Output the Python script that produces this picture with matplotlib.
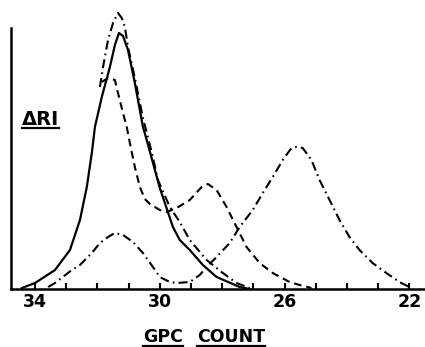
import matplotlib
matplotlib.use('Agg')
import matplotlib.pyplot as plt
from matplotlib.lines import Line2D

plt.rcParams['font.family'] = ['DejaVu Sans']
plt.rcParams['lines.scale_dashes'] = False

# GPC count vs detector response (heights)
solid_x = [34.42, 34.00, 33.36, 32.88, 32.56, 32.34, 32.18, 32.08, 31.86, 31.60, 31.44,
           31.31, 31.18, 31.02, 30.80, 30.70, 30.54, 30.42, 30.00, 29.58, 29.36,
           29.04, 28.62, 28.18, 27.44, 27.12]
solid_y = [1, 6, 19, 39, 69, 102, 136, 162, 192, 222, 244,
           256, 253, 239, 206, 189, 162, 149, 101, 62, 49,
           39, 24, 12, 2, 0]

tall_x = [31.92, 31.82, 31.66, 31.50, 31.34, 31.22, 31.12, 31.02, 30.80, 30.54, 30.26,
          30.06, 29.68, 29.36, 29.04, 28.50, 27.98, 27.54, 27.12]
tall_y = [202, 222, 249, 266, 276, 271, 262, 242, 211, 171, 137,
          109, 82, 67, 49, 29, 16, 6, 1]

dash_x = [31.86, 31.66, 31.44, 31.34, 31.18, 31.06, 30.96, 30.80, 30.64, 30.48, 30.32,
          30.00, 29.78, 29.46, 29.04, 28.66, 28.46, 28.18, 27.86, 27.54, 27.22,
          26.80, 26.38, 25.84, 25.52, 25.14]
dash_y = [207, 211, 209, 196, 176, 162, 146, 122, 102, 90, 85,
          79, 77, 81, 89, 102, 105, 99, 82, 62, 42,
          26, 16, 7, 4, 1]

dd_x = [33.58, 33.36, 32.82, 32.56, 32.18, 31.92, 31.66, 31.44, 31.18, 30.86, 30.54,
        30.22, 30.00, 29.68, 29.46, 29.04, 28.72, 28.50, 28.18, 27.76, 27.44,
        27.02, 26.70, 26.38, 26.06, 25.78, 25.62, 25.42, 25.14, 24.88, 24.56,
        24.24, 23.92, 23.60, 23.18, 22.74, 22.32, 22.00]
dd_y = [2, 6, 19, 24, 36, 46, 52, 56, 54, 47, 36,
        22, 12, 7, 6, 7, 14, 22, 32, 46, 62,
        79, 96, 112, 129, 141, 142, 141, 129, 109, 89,
        69, 52, 39, 26, 16, 7, 2]

ticks = list(range(22, 35))
tick_labels = ['22', '', '', '', '26', '', '', '', '30', '', '', '', '34']

fig = plt.figure(figsize=(4.25, 3.47), dpi=100)
ax = fig.add_axes([11/425, 58/347, 414/425, 261/347])

dashdot = (0, (6.5, 3, 1.2, 3))
dashed = (0, (5.5, 3.5))
kw = dict(color='black', clip_on=False, solid_joinstyle='round',
          dash_joinstyle='round')
ax.plot(solid_x, solid_y, lw=1.6, **kw)
ax.plot(tall_x, tall_y, lw=1.5, linestyle=dashdot, **kw)
ax.plot(dash_x, dash_y, lw=1.5, linestyle=dashed, **kw)
ax.plot(dd_x, dd_y, lw=1.5, linestyle=dashdot, **kw)

ax.set_xlim(34.77, 21.5)
ax.set_ylim(0, 261)
ax.set_xticks(ticks)
ax.set_xticklabels(tick_labels, fontsize=12.5, fontweight='bold')
ax.tick_params(axis='x', direction='in', length=4, width=1.5, pad=3)
ax.set_yticks([])
for s in ['top', 'right']:
    ax.spines[s].set_visible(False)
for s in ['left', 'bottom']:
    ax.spines[s].set_linewidth(1.8)

# underlined labels
labels = [
    ('\u0394RI', 22, 125, 14),
    ('GPC', 143, 342, 12.5),
    ('COUNT', 197, 342, 12.5),
]
texts = []
for s, px, py, fs in labels:
    t = fig.text(px/425, 1 - py/347, s, fontsize=fs, fontweight='bold',
                 ha='left', va='baseline')
    texts.append(t)

fig.canvas.draw()
r = fig.canvas.get_renderer()
for t in texts:
    bb = t.get_window_extent(r).transformed(fig.transFigure.inverted())
    y = t.get_position()[1] - 3.5/347
    fig.add_artist(Line2D([bb.x0, bb.x1], [y, y], color='black', lw=1.6,
                          transform=fig.transFigure))

fig.savefig('out.png', dpi=100)
